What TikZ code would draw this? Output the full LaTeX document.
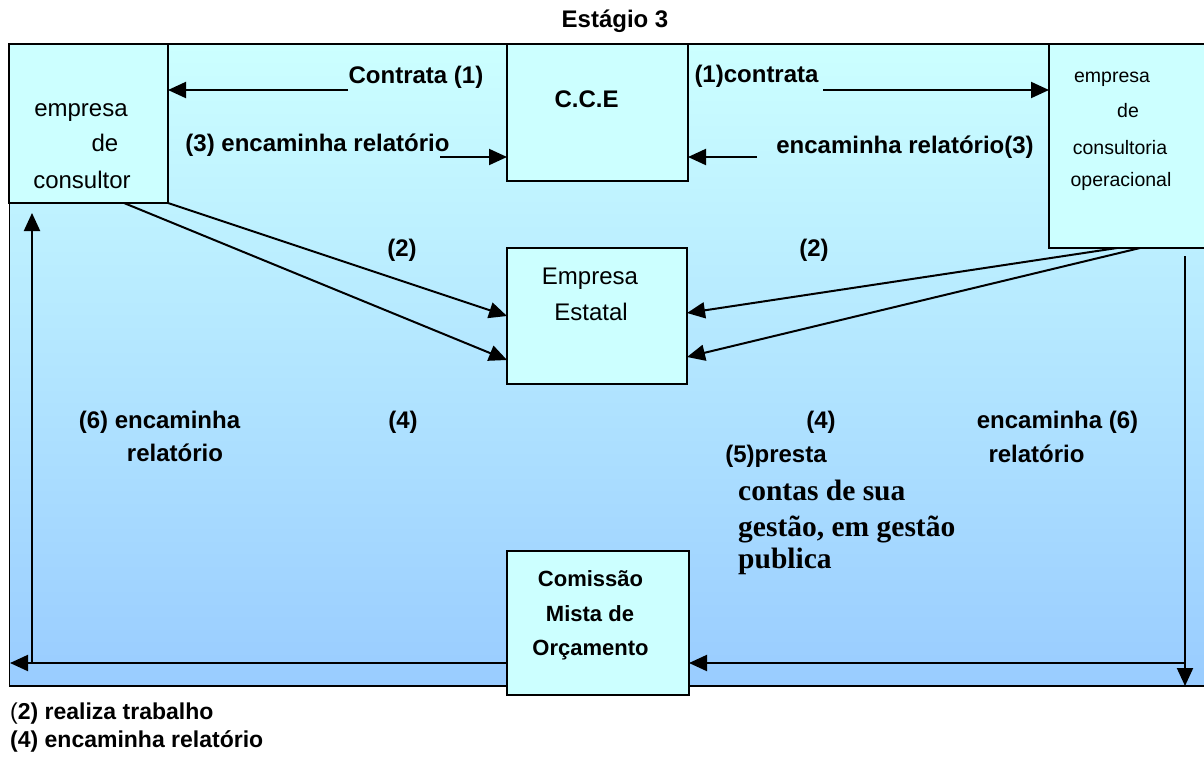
\documentclass[tikz,border=0pt]{standalone}
\usepackage{fontspec}
\setmainfont{Liberation Sans}
\newfontfamily\serifb{Liberation Serif}
\usetikzlibrary{arrows.meta}
\definecolor{boxfill}{RGB}{204,255,255}
\definecolor{gtop}{RGB}{204,255,255}
\definecolor{gbot}{RGB}{153,204,255}
\begin{document}
\begin{tikzpicture}[x=1pt,y=-1pt,
  box/.style={draw=black, line width=2pt, fill=boxfill, inner sep=0pt, outer sep=0pt},
  conn/.style={line width=2pt, -{Triangle[length=18pt,width=16pt]}},
  bl/.style={inner sep=0pt, text height=17pt, text depth=5pt, font=\bfseries\fontsize{24}{28}\selectfont},
  rl/.style={inner sep=0pt, text height=17pt, text depth=5pt, font=\fontsize{24}{28}\selectfont},
  sl/.style={inner sep=0pt, text height=14pt, text depth=4pt, font=\fontsize{19.5}{24}\selectfont},
  cl/.style={inner sep=0pt, text height=16pt, text depth=5pt, font=\bfseries\fontsize{22}{26}\selectfont},
  tl/.style={inner sep=0pt, anchor=base west, font=\serifb\bfseries\fontsize{29.5}{34}\selectfont},
]
\useasboundingbox (0,0) rectangle (1204,761);
\begin{scope}
\clip (0,0) rectangle (1204,761);
\shade[top color=gtop, bottom color=gbot] (9.5,44) rectangle (1215,686);
\draw[line width=1.5pt] (9.5,44) rectangle (1215,686);
\node[box, minimum width=159pt, minimum height=159pt] (cons) at (88.5,123.5) {};
\node[box, minimum width=181pt, minimum height=137pt] (cce) at (597.5,112.5) {};
\node[box, minimum width=170pt, minimum height=204pt] (oper) at (1134,146) {};
\node[box, minimum width=180pt, minimum height=136pt] (est) at (597,316) {};
\end{scope}

% title
\node[bl] (title) at (615,21) {Estágio 3};

% box texts
\node[rl] (t1a) at (81,110) {empresa};
\node[rl] (t1b) at (105,145) {de};
\node[rl] (t1c) at (82,182) {consultor};
\node[bl] (t2) at (586.5,101) {C.C.E};
\node[sl] (t3a) at (1112,77) {empresa};
\node[sl] (t3b) at (1128,112) {de};
\node[sl] (t3c) at (1120,149) {consultoria};
\node[sl] (t3d) at (1121,181) {operacional};
\node[rl] (t4a) at (590,278) {Empresa};
\node[rl] (t4b) at (591,314) {Estatal};

% top connectors
\coordinate (c1s) at (348,90);
\draw[conn] (c1s) -- (c1s -| cons.east);
\coordinate (c3s) at (440,157);
\draw[conn] (c3s) -- (c3s -| cce.west);
\coordinate (o1s) at (823,90);
\draw[conn] (o1s) -- (o1s -| oper.west);
\coordinate (o3s) at (757,157);
\draw[conn] (o3s) -- (o3s -| cce.east);

\node[bl] (l1) at (416,77) {Contrata (1)};
\node[bl] (l2) at (317.5,145) {(3) encaminha relatório};
\node[bl] (l3) at (756.5,76) {(1)contrata};
\node[bl] (l4) at (905,147) {encaminha relatório(3)};

% diagonal connectors
\draw[conn] (cons.south east) -- (est.west);
\draw[conn] ([xshift=-44pt]cons.south east) -- ([yshift=-44pt]est.west);
\draw[conn] ([xshift=68pt]oper.south west) -- ([yshift=3pt]est.east);
\draw[conn] ([xshift=91pt]oper.south west) -- ([yshift=-41pt]est.east);
\node[bl] (l5) at (402,250) {(2)};
\node[bl] (l6) at (814,250) {(2)};

% Comissao box
\node[box, minimum width=182pt, minimum height=144pt] (cmo) at (598,623) {};
\node[cl] (t5a) at (590.5,581) {Comissão};
\node[cl] (t5b) at (590,616) {Mista de};
\node[cl] (t5c) at (590.5,650) {Orçamento};

% bottom connectors
\coordinate (rv) at (1185,256);
\coordinate (rb) at (1185,686);
\draw[conn] (rv) -- (rb);
\coordinate (rh) at (1185,663);
\draw[conn] (rh) -- (rh -| cmo.east);
\coordinate (lh) at (10,663);
\draw[conn] (lh -| cmo.west) -- (lh);
\coordinate (lv) at (32,663);
\coordinate (lvt) at (32,213);
\draw[conn] (lv) -- (lvt);

% middle labels
\node[bl] (l7) at (159.5,422) {(6) encaminha};
\node[bl] (l8) at (175,455) {relatório};
\node[bl] (l9) at (403,422) {(4)};
\node[bl] (l10) at (821,422) {(4)};
\node[bl] (l11) at (1057.5,422) {encaminha (6)};
\node[bl] (l12) at (1036.5,456) {relatório};
\node[bl] (l13) at (776,456) {(5)presta};
\node[tl] (s1) at (738,500) {contas de sua};
\node[tl] (s2) at (738,536) {gestão, em gestão};
\node[tl] (s3) at (738,568) {publica};

% legend
\node[bl, anchor=west, font=\bfseries\fontsize{23}{27}\selectfont] (g1) at (10,713) {{\mdseries(}2) realiza trabalho};
\node[bl, anchor=west, font=\bfseries\fontsize{23}{27}\selectfont] (g2) at (10,741) {(4) encaminha relatório};
\end{tikzpicture}
\end{document}
